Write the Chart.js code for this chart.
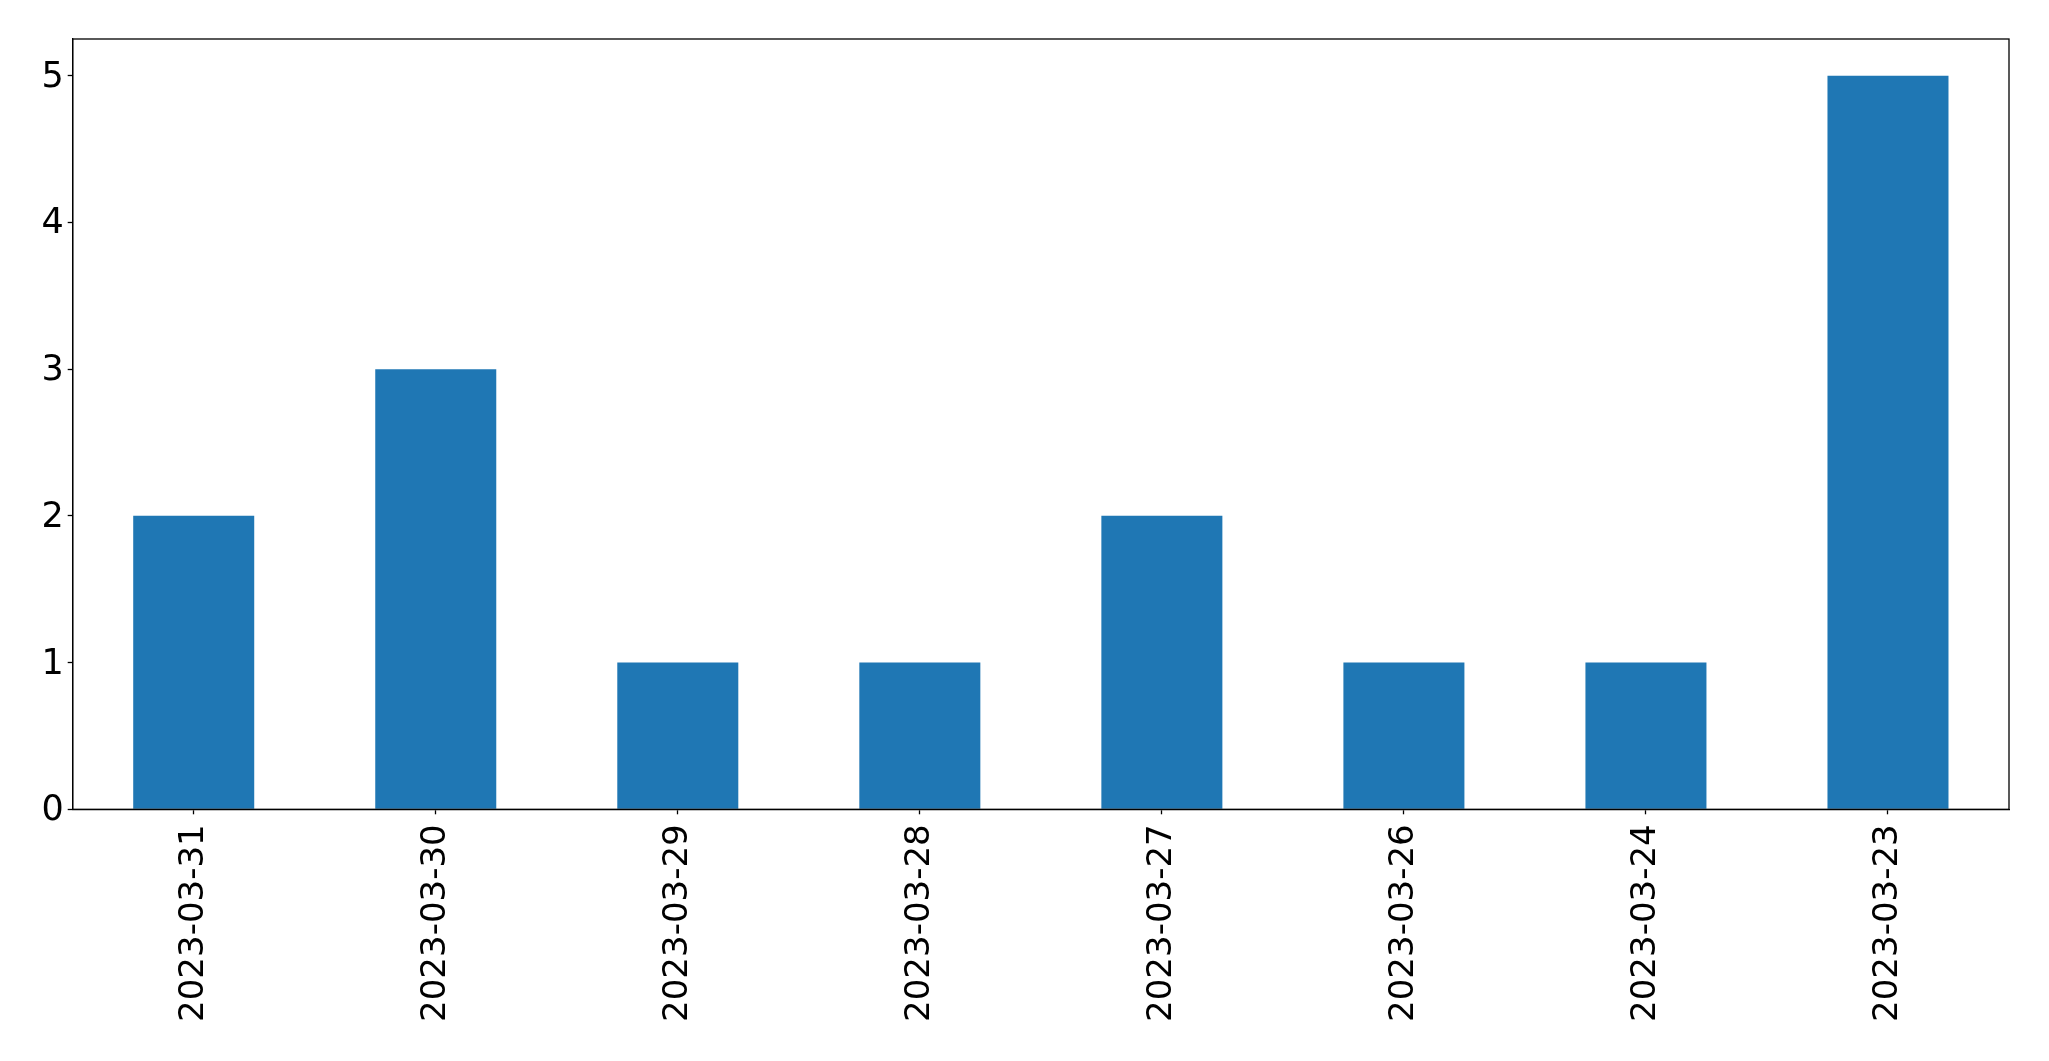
<!DOCTYPE html>
<html>
<head>
<meta charset="utf-8">
<script src="https://cdn.jsdelivr.net/npm/chart.js@4"></script>
<style>
  html, body { margin: 0; padding: 0; background: #ffffff; }
  #wrap { width: 2049px; height: 1061px; position: relative; }
</style>
</head>
<body>
<div id="wrap"><canvas id="c" width="2049" height="1061"></canvas></div>
<script>
const categories = ["2023-03-31", "2023-03-30", "2023-03-29", "2023-03-28", "2023-03-27", "2023-03-26", "2023-03-24", "2023-03-23"];
const counts = [2, 3, 1, 1, 2, 1, 1, 5];
const yTicks = [0, 1, 2, 3, 4, 5];

const framePlugin = {
  id: 'frame',
  afterDraw(chart) {
    const { ctx, chartArea: a } = chart;
    ctx.save();
    ctx.strokeStyle = '#000';
    ctx.lineWidth = 1.3;
    ctx.strokeRect(a.left, a.top, a.right - a.left, a.bottom - a.top);
    ctx.restore();
  }
};

new Chart(document.getElementById('c'), {
  type: 'bar',
  data: {
    labels: categories,
    datasets: [{
      data: counts,
      backgroundColor: '#1f77b4',
      borderWidth: 0,
      categoryPercentage: 0.5,
      barPercentage: 1.0
    }]
  },
  options: {
    responsive: false,
    animation: false,
    devicePixelRatio: 1,
    layout: { padding: { left: 0, top: 39, right: 40, bottom: 0 } },
    plugins: { legend: { display: false }, tooltip: { enabled: false } },
    scales: {
      x: {
        grid: { drawOnChartArea: false, offset: false, tickLength: 5, color: '#000', tickWidth: 1.3 },
        border: { display: true, color: '#000', width: 1.3 },
        ticks: {
          color: '#000',
          font: { family: 'DejaVu Sans', size: 34 },
          minRotation: 90, maxRotation: 90,
          padding: 10,
          autoSkip: false
        },
        afterFit(scale) { scale.height = 251.7; }
      },
      y: {
        min: 0,
        max: 5.25,
        grid: { drawOnChartArea: false, tickLength: 5, color: '#000', tickWidth: 1.3 },
        border: { display: true, color: '#000', width: 1.3 },
        afterBuildTicks(scale) { scale.ticks = yTicks.map(v => ({ value: v })); },
        ticks: {
          color: '#000',
          font: { family: 'DejaVu Sans', size: 35 },
          padding: 4,
          labelOffset: 2,
          includeBounds: false
        },
        afterFit(scale) { scale.width = 72.7; }
      }
    }
  },
  plugins: [framePlugin]
});
</script>
</body>
</html>
